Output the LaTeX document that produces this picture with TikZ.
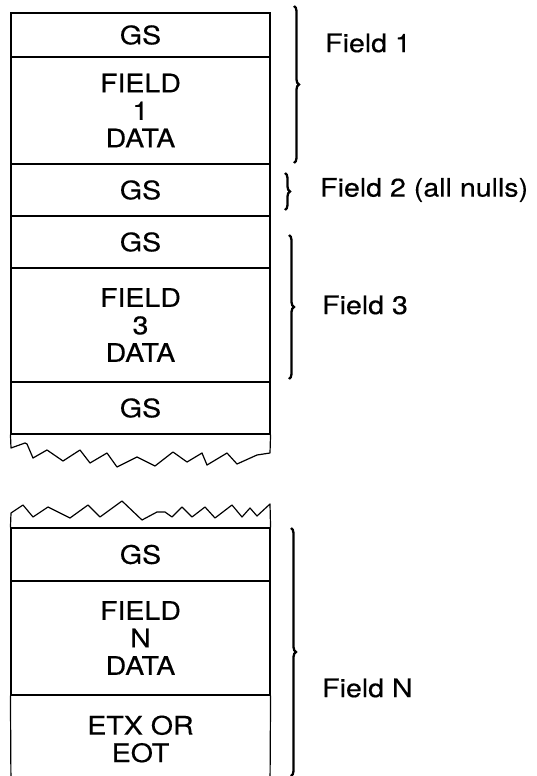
\documentclass[tikz,border=0pt]{standalone}
\usepackage{fontspec}
\setmainfont{TeX Gyre Heros}[FakeStretch=1.12,FakeBold=0.3]
\usetikzlibrary{decorations.pathreplacing}
\begin{document}
\begin{tikzpicture}[x=1pt,y=-1pt,
  cell/.style={draw, line width=1.1pt, minimum width=259pt, inner sep=0pt, align=center,
    font=\fontsize{25.5}{27.5}\selectfont},
  txt/.style={inner sep=0pt, align=center, font=\fontsize{25.5}{27.5}\selectfont},
  lbl/.style={anchor=west, inner sep=0pt, font=\fontsize{25.5}{27.5}\selectfont},
  brc/.style={decorate, decoration={brace, amplitude=5pt}, line width=2.3pt},
  edge/.style={line width=1.2pt, line join=round}]
\useasboundingbox (0,0) rectangle (536,776);

% upper segment
\node[cell, minimum height=44pt]  (gs1) at (140.5,35)  {GS};
\node[cell, minimum height=107pt] (f1)  at (140.5,110.5) {FIELD\\1\\DATA};
\node[cell, minimum height=52pt]  (gs2) at (140.5,190)  {GS};
\node[cell, minimum height=52pt]  (gs3) at (140.5,242)  {GS};
\node[cell, minimum height=114pt] (f3)  at (140.5,325)  {FIELD\\3\\DATA};
\node[cell, minimum height=52pt]  (gs4) at (140.5,408)  {GS};
\draw[edge] (gs4.south west) -- (11,448)
  -- (25,443) -- (27,444) -- (33,458) -- (47,450) -- (63,461) -- (80,450)
  -- (90,463) -- (107,453) -- (117,467) -- (137,457) -- (155,466) -- (173,452)
  -- (187,462) -- (202,453) -- (207,465) -- (227,453) -- (237,464) -- (257,455)
  -- (270,453) -- (gs4.south east);

% lower segment
\node[cell, minimum height=53pt]  (gsN) at (140.5,554.5) {GS};
\node[cell, minimum height=114pt] (fN)  at (140.5,638)  {FIELD\\N\\DATA};
\coordinate (bl) at (11,790);
\coordinate (br) at (270,790);
\draw[edge] (gsN.north west) -- (11,513)
  -- (23,505) -- (33,517) -- (48,507) -- (70,518) -- (88,505) -- (100,517)
  -- (122,501) -- (142,520) -- (157,512) -- (165,512) -- (172,517) -- (182,507)
  -- (192,517) -- (205,507) -- (215,518) -- (232,505) -- (242,517) -- (250,508)
  -- (257,516) -- (270,504) -- (gsN.north east);
\draw[edge] (fN.south west) -- (bl);
\draw[edge] (fN.south east) -- (br);
\node[txt] (etx) at (140.5,739) {ETX OR\\EOT};

% braces
\draw[brc] (294,6) -- (294,163);
\draw[brc] (285,173) -- (285,210);
\draw[brc] (289,235) -- (289,379);
\draw[brc] (291,528) -- (291,776);

% labels
\node[lbl] (l1) at (325,43)  {Field 1};
\node[lbl] (l2) at (320,190) {Field 2 (all nulls)};
\node[lbl] (l3) at (322,305) {Field 3};
\node[lbl] (lN) at (322,688) {Field N};
\end{tikzpicture}
\end{document}
